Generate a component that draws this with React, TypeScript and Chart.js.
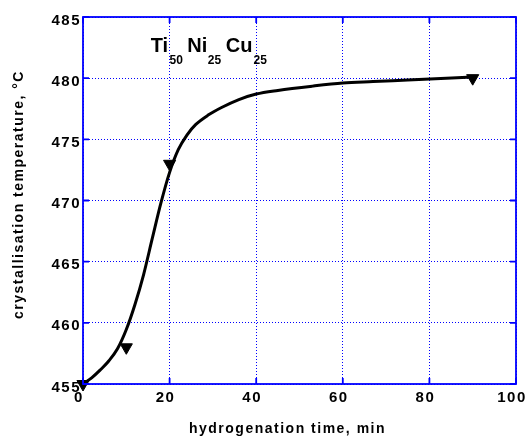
import React, { useEffect, useRef } from "react";
import { Chart, registerables } from "chart.js";

Chart.register(...registerables);

// Smoothed fit curve (hydrogenation time, min -> crystallisation temperature, °C)
const curveTime = [0, 2, 4, 6, 8, 10, 12, 14, 16, 18, 20, 22, 24, 26, 29, 32, 36, 40, 45, 53, 60, 67, 75, 90];
const curveTemp = [455, 455.5, 456.15, 456.9, 457.9, 459.45, 461.5, 463.95, 466.9, 469.8, 472.3, 474.15, 475.35, 476.2, 477.0, 477.6, 478.25, 478.7, 479.0, 479.35, 479.6, 479.72, 479.85, 480.1];

// Measured points (triangle markers)
const markerTime = [0, 10, 20, 90];
const markerTemp = [455, 458, 473, 480];

const xTitle = "hydrogenation time, min";
const yTitle = "crystallisation temperature, °C";
const formulaParts: [string, boolean][] = [
  ["Ti", false], ["50", true], ["Ni", false], ["25", true], ["Cu", false], ["25", true],
];
const formulaOffsets = [67.7, 86.5, 104.3, 124.8, 142.7, 170.5];

const BLUE = "#0000ff";
const FONT = "'Liberation Sans', Arial, Helvetica, sans-serif";

const decorPlugin = {
  id: "decor",
  beforeDraw(chart: any) {
    (chart.ctx as any).letterSpacing = "1.5px";
  },
  afterDraw(chart: any) {
    const ctx = chart.ctx as CanvasRenderingContext2D;
    const { left, right, top, bottom } = chart.chartArea;
    const xs = chart.scales.x;
    const ys = chart.scales.y;
    ctx.save();
    // frame
    ctx.strokeStyle = BLUE;
    ctx.lineWidth = 1.8;
    ctx.setLineDash([]);
    ctx.strokeRect(left, top, right - left, bottom - top);
    // inward ticks
    const tl = 6;
    ctx.beginPath();
    xs.ticks.forEach((t: any) => {
      const px = xs.getPixelForValue(t.value);
      ctx.moveTo(px, bottom); ctx.lineTo(px, bottom - tl);
      ctx.moveTo(px, top); ctx.lineTo(px, top + tl);
    });
    ys.ticks.forEach((t: any) => {
      const py = ys.getPixelForValue(t.value);
      ctx.moveTo(left, py); ctx.lineTo(left + tl, py);
      ctx.moveTo(right, py); ctx.lineTo(right - tl, py);
    });
    ctx.stroke();

    // axis titles
    ctx.fillStyle = "#000";
    (ctx as any).letterSpacing = "1.5px";
    ctx.font = `bold 14px ${FONT}`;
    ctx.textAlign = "center";
    ctx.textBaseline = "alphabetic";
    ctx.fillText(xTitle, (left + right) / 2 - 12, chart.height - 4.5);
    ctx.save();
    ctx.translate(22.5, (top + bottom) / 2 - 6);
    ctx.rotate(-Math.PI / 2);
    ctx.fillText(yTitle, 0, 0);
    ctx.restore();

    // formula annotation
    (ctx as any).letterSpacing = "0px";
    ctx.textAlign = "left";
    formulaParts.forEach(([txt, sub], i) => {
      ctx.font = sub ? `bold 12px ${FONT}` : `bold 20px ${FONT}`;
      ctx.fillText(txt, left + formulaOffsets[i], sub ? top + 46.5 : top + 35);
    });
    ctx.restore();
  },
};

export default function App() {
  const ref = useRef<HTMLCanvasElement>(null);
  useEffect(() => {
    if (!ref.current) return;
    const chart = new Chart(ref.current, {
      type: "scatter",
      data: {
        datasets: [
          {
            data: markerTime.map((x, i) => ({ x, y: markerTemp[i] })),
            pointStyle: "triangle",
            rotation: 180,
            pointRadius: 7,
            pointHoverRadius: 7,
            backgroundColor: "#000",
            borderColor: "#000",
            borderWidth: 1,
            showLine: false,
            clip: false as any,
          },
          {
            data: curveTime.map((x, i) => ({ x, y: curveTemp[i] })),
            showLine: true,
            borderColor: "#000",
            borderWidth: 3,
            pointRadius: 0,
            pointHoverRadius: 0,
            cubicInterpolationMode: "monotone",
            fill: false,
            clip: false as any,
          },
        ],
      },
      options: {
        animation: false,
        responsive: false,
        devicePixelRatio: 1,
        layout: { padding: { top: 17, right: 10, left: 0, bottom: 0 } },
        plugins: { legend: { display: false }, tooltip: { enabled: false } },
        scales: {
          x: {
            type: "linear",
            min: 0,
            max: 100,
            ticks: {
              stepSize: 20,
              color: "#000",
              font: { family: FONT, size: 15, weight: "bold" },
              padding: 5,
              labelOffset: -4,
              maxRotation: 0,
            },
            grid: { color: BLUE, lineWidth: 1, drawTicks: false },
            border: { display: false, dash: [1, 2] },
            afterFit(scale: any) {
              scale.height = 53;
              scale.paddingLeft = 0;
              scale.paddingRight = 0;
            },
          },
          y: {
            type: "linear",
            min: 455,
            max: 485,
            ticks: {
              stepSize: 5,
              color: "#000",
              font: { family: FONT, size: 15, weight: "bold" },
              padding: 2,
              labelOffset: 3.5,
            },
            grid: { color: BLUE, lineWidth: 1, drawTicks: false },
            border: { display: false, dash: [1, 2] },
            afterFit(scale: any) {
              scale.width = 83;
              scale.paddingTop = 0;
              scale.paddingBottom = 0;
            },
          },
        },
      },
      plugins: [decorPlugin],
    } as any);
    return () => chart.destroy();
  }, []);
  return (
    <div style={{ position: "absolute", left: 0, top: 0, width: 526, height: 437, background: "#fff" }}>
      <canvas ref={ref} width={526} height={437} style={{ display: "block" }} />
    </div>
  );
}
